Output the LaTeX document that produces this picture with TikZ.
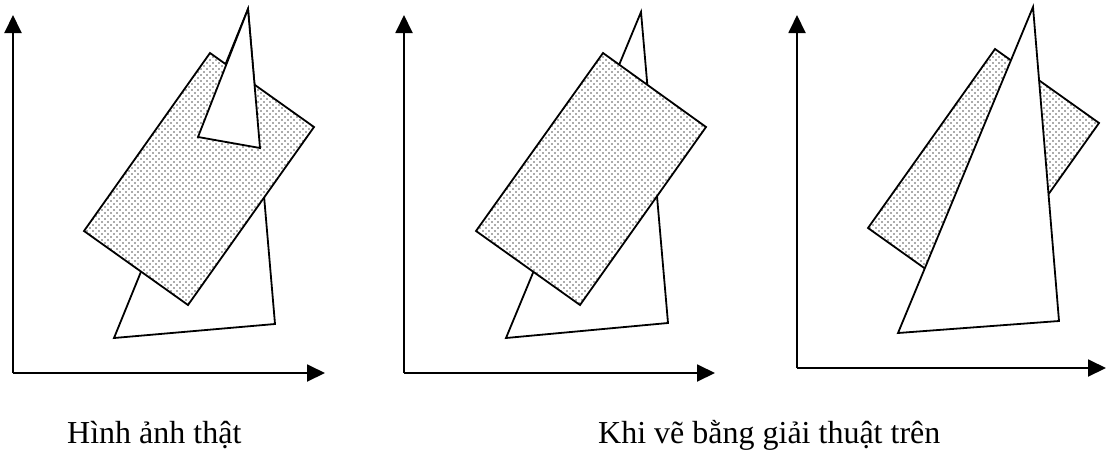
\documentclass[tikz,border=0pt]{standalone}
\usepackage{fontspec}
\setmainfont{Liberation Serif}
\usetikzlibrary{arrows.meta,patterns}
\pgfdeclarepatternformonly{stipple}{\pgfpoint{-1.5pt}{-1.5pt}}{\pgfpoint{4.5pt}{4.5pt}}{\pgfpoint{6pt}{6pt}}{%
  \pgfpathcircle{\pgfpoint{0pt}{0pt}}{0.9pt}%
  \pgfpathcircle{\pgfpoint{3pt}{3pt}}{0.9pt}%
  \pgfusepath{fill}}
\tikzset{
  axis/.style={line width=1.9pt,-{Triangle[length=18pt,width=17pt]}},
  whitepoly/.style={line width=1.8pt,line join=miter,fill=white},
  stippled/.style={line width=1.8pt,line join=miter,preaction={fill=white},pattern=stipple,pattern color=black!65},
  caption/.style={anchor=base west,inner sep=0pt,font=\fontsize{32}{38}\selectfont}
}
\begin{document}
\begin{tikzpicture}[x=1pt,y=-1pt]
\useasboundingbox (0,0) rectangle (1107,450);
% ---------- panel 1 ----------
\coordinate (o1) at (13,373);
\coordinate (y1) at (13,15);
\coordinate (x1) at (325,373);
\draw[axis] (o1) -- (y1);
\draw[axis] (o1) -- (x1);
\draw[whitepoly] (248,9) -- (275,324) -- (114,338) -- cycle;
\draw[stippled] (210,53) -- (314,127) -- (188,305) -- (84,231) -- cycle;
\draw[whitepoly] (248,9) -- (260,148) -- (198,137) -- cycle;
% ---------- panel 2 ----------
\coordinate (o2) at (404,373);
\coordinate (y2) at (404,15);
\coordinate (x2) at (715,373);
\draw[axis] (o2) -- (y2);
\draw[axis] (o2) -- (x2);
\draw[whitepoly] (641,12) -- (668,323) -- (506,338) -- cycle;
\draw[stippled] (603,53) -- (706,127) -- (580,305) -- (476,231) -- cycle;
% ---------- panel 3 ----------
\coordinate (o3) at (797,368);
\coordinate (y3) at (797,15);
\coordinate (x3) at (1106,368);
\draw[axis] (o3) -- (y3);
\draw[axis] (o3) -- (x3);
\draw[stippled] (995,49) -- (1099,123) -- (972,302) -- (868,228) -- cycle;
\draw[whitepoly] (1033,7) -- (1059,321) -- (898,333) -- cycle;
% ---------- captions ----------
\node[caption] (c1) at (67,443) {Hình ảnh thật};
\node[caption] (c2) at (598,443) {Khi vẽ bằng giải thuật trên};
\end{tikzpicture}
\end{document}
